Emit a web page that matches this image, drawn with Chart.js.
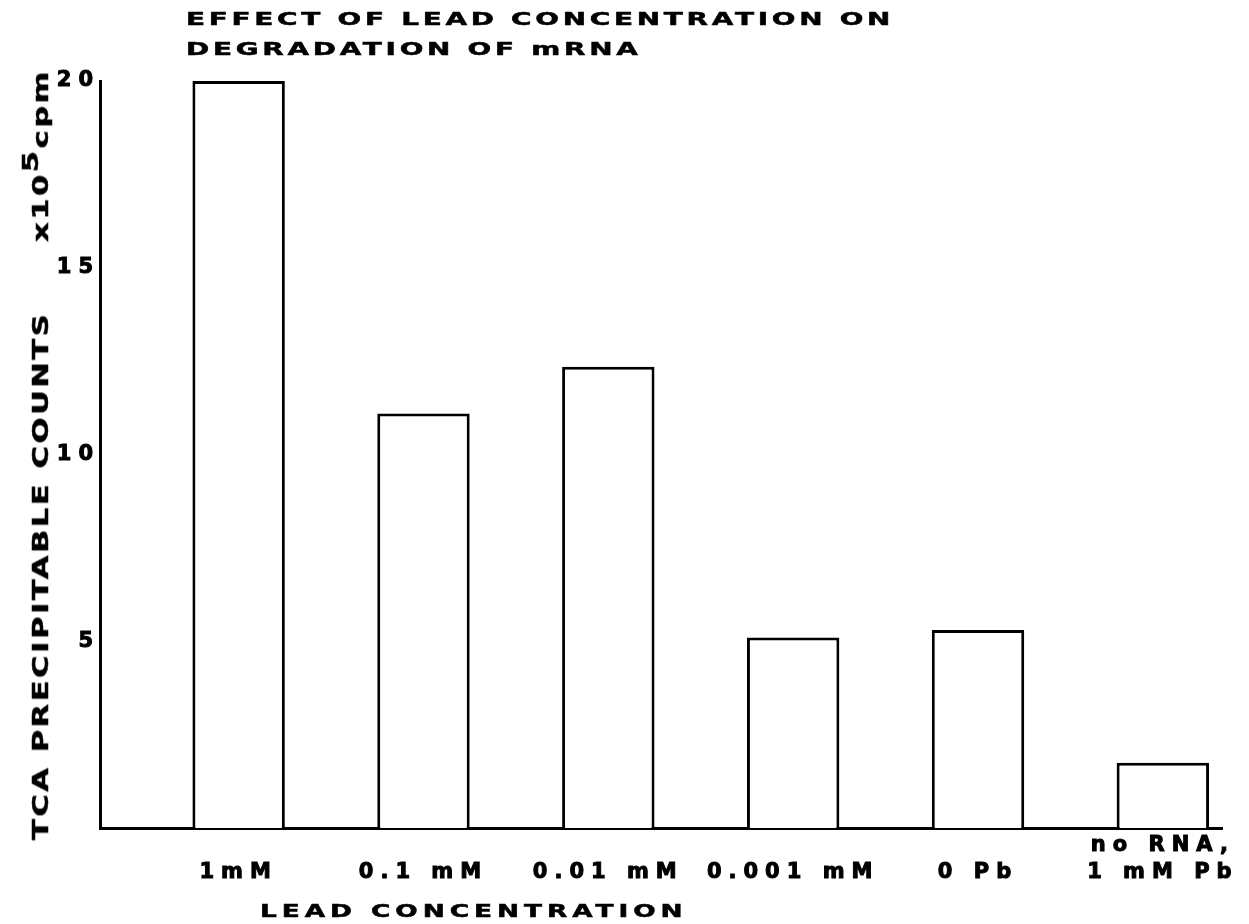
<!DOCTYPE html>
<html>
<head>
<meta charset="utf-8">
<script src="https://cdn.jsdelivr.net/npm/chart.js@4"></script>
<style>
  html, body { margin:0; padding:0; background:#fff; }
  #wrap { position:relative; width:1249px; height:924px; }
  #wrap canvas { position:absolute; left:0; top:0; }
  .lbl { position:absolute; white-space:nowrap; font-family:"DejaVu Sans", sans-serif; font-weight:bold; color:#000; transform-origin:0 0; -webkit-text-stroke:0.5px #000; }
</style>
</head>
<body>
<div id="wrap">
  <canvas id="chart" width="1249" height="924"></canvas>
  <div class="lbl" id="title" style="left:186px;top:4px;font-size:18px;line-height:30px;letter-spacing:2.4px;transform:scaleX(1.55)">EFFECT OF LEAD CONCENTRATION ON<br>DEGRADATION OF mRNA</div>
  <div class="lbl" id="xtitle" style="left:260px;top:901px;font-size:17px;line-height:20px;letter-spacing:3.2px;transform:scaleX(1.55)">LEAD CONCENTRATION</div>
  <div class="lbl" id="ytitle" style="left:29px;top:840px;font-size:21px;line-height:24px;letter-spacing:1.8px;transform:rotate(-90deg) scaleX(1.45)">TCA PRECIPITABLE COUNTS<span style="display:inline-block;width:48px"></span>x10<span style="position:relative;top:-0.5em">5</span>cpm</div>
</div>
<script>
// lead concentration vs TCA precipitable counts (x10^5 cpm)
const CATEGORIES = [["", "1mM"], ["", "0.1 mM"], ["", "0.01 mM"], ["", "0.001 mM"], ["", "0 Pb"], ["no RNA,", "1 mM Pb"]];
const COUNTS = [20, 11.1, 12.35, 5.1, 5.3, 1.75];
const Y_TICKS = [5, 10, 15, 20];

const FONT = { family: '"DejaVu Sans", sans-serif', weight: 'bold', size: 21 };

// canvas text in the original is widely spaced
const spacing = {
  id: 'spacing',
  beforeUpdate(c){ c.ctx.letterSpacing = '7px'; },
  beforeDraw(c){ c.ctx.letterSpacing = '7px'; }
};

new Chart(document.getElementById('chart').getContext('2d'), {
  type: 'bar',
  data: {
    datasets: [{
      data: COUNTS.map((v, i) => ({ x: i, y: v })),
      backgroundColor: '#fff',
      borderColor: '#000',
      borderWidth: 3,
      barPercentage: 0.5,
      categoryPercentage: 1
    }]
  },
  options: {
    responsive: false,
    animation: false,
    layout: { padding: { top: 81, right: 27, bottom: 0, left: 0 } },
    plugins: { legend: { display:false }, tooltip: { enabled:false } },
    scales: {
      x: {
        type: 'linear',
        offset: false,
        min: -0.75, max: 5.32,
        afterBuildTicks: s => { s.ticks = CATEGORIES.map((_, i) => ({ value: i })); },
        afterFit: s => { s.height = 96; },
        grid: { display:false, drawTicks:false },
        border: { color:'#000', width:3 },
        ticks: {
          callback: (v, i) => CATEGORIES[i],
          maxRotation: 0, autoSkip: false,
          color: '#000', padding: 4,
          textStrokeColor: '#000', textStrokeWidth: 1,
          font: Object.assign({ lineHeight: 1.3 }, FONT)
        }
      },
      y: {
        min: 0, max: 20,
        afterBuildTicks: s => { s.ticks = Y_TICKS.map(v => ({ value: v })); },
        afterFit: s => { s.width = 100; },
        grid: { display:false, drawTicks:false },
        border: { color:'#000', width:3 },
        ticks: { color:'#000', padding: 0, textStrokeColor: '#000', textStrokeWidth: 1, font: FONT }
      }
    }
  },
  plugins: [spacing]
});
</script>
</body>
</html>
